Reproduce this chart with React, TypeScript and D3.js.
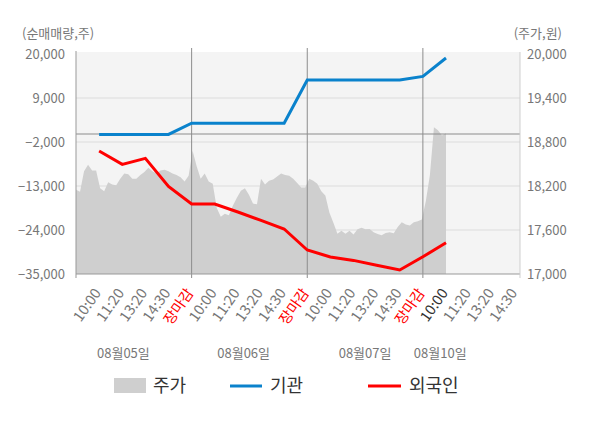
import { useEffect, useRef } from 'react';
import * as d3 from 'd3';

const timeLabels = [
  '10:00', '11:20', '13:20', '14:30', '장마감',
  '10:00', '11:20', '13:20', '14:30', '장마감',
  '10:00', '11:20', '13:20', '14:30', '장마감',
  '10:00', '11:20', '13:20', '14:30',
];
const dayLabels = ['08월05일', '08월06일', '08월07일', '08월10일'];
const dayLabelAt = [1.05, 6.25, 11.5, 14.75];
const dayBreaks = [4, 9, 14];
const currentSlot = 15;

// cumulative net buying (shares), one value per time slot
const institution = [
  -100, -100, -100, -100, 2700,
  2700, 2700, 2700, 2700, 13500,
  13500, 13500, 13500, 13500, 14400,
  19000,
];
const foreign = [
  -4250, -7600, -6100, -13100, -17500,
  -17500, -19500, -21600, -23750, -29000,
  -30750, -31600, -32800, -34000, -30700,
  -27200,
];

// stock price (won), evenly spaced from the start of the chart to 10:00 on 08/10
const price = [
  18150, 18120, 18400, 18490, 18410, 18410, 18170, 18130, 18250, 18220,
  18210, 18300, 18370, 18360, 18300, 18300, 18350, 18390, 18450, 18400,
  18370, 18410, 18420, 18400, 18370, 18350, 18320, 18260, 18340, 18680,
  18470, 18300, 18370, 18260, 18230, 17900, 17780, 17820, 17800, 17930,
  18040, 18135, 18170, 18080, 17960, 17950, 18300, 18220, 18270, 18290,
  18330, 18370, 18350, 18340, 18300, 18240, 18180, 18180, 18300, 18270,
  18230, 18130, 18070, 17840, 17700, 17550, 17590, 17550, 17590, 17540,
  17610, 17630, 17610, 17615, 17570, 17545, 17530, 17560, 17570, 17555,
  17640, 17705, 17675, 17660, 17705, 17720, 17743, 18000, 18350, 19000,
  18960, 18890, 18920,
];

const leftTicks = [20000, 9000, -2000, -13000, -24000, -35000];
const rightTicks = [20000, 19400, 18800, 18200, 17600, 17000];

const FONT = '"Noto Sans CJK KR", "Noto Sans", sans-serif';

export default function App() {
  const svgRef = useRef<SVGSVGElement>(null);

  useEffect(() => {
    if (!svgRef.current) return;
    const svg = d3.select(svgRef.current);
    svg.selectAll('*').remove();

    const left = 76, right = 520, top = 54, bottom = 274;

    const x = d3.scaleLinear().domain([-1, 18.2]).range([left, right]);
    const yL = d3.scaleLinear().domain([-35000, 20000]).range([bottom, top]);
    const yR = d3.scaleLinear().domain([17000, 20000]).range([bottom, top]);
    const priceX = d3.scaleLinear().domain([0, price.length - 1]).range([-1, currentSlot]);

    // plot background
    svg.append('rect')
      .attr('x', left).attr('y', top - 2)
      .attr('width', right - left).attr('height', bottom - top + 2)
      .attr('fill', '#f4f4f4');

    // grid lines
    svg.append('g')
      .selectAll('line')
      .data(leftTicks.filter(d => d !== 20000 && d !== -35000))
      .enter()
      .append('line')
      .attr('x1', left).attr('x2', right)
      .attr('y1', d => yL(d)).attr('y2', d => yL(d))
      .attr('stroke', '#dcdcdc');

    // price area
    const area = d3.area<number>()
      .x((_, i) => x(priceX(i)))
      .y0(yR(17000))
      .y1(d => yR(d));
    svg.append('path')
      .datum(price)
      .attr('d', area)
      .attr('fill', '#cfcfcf');

    // zero line
    svg.append('line')
      .attr('x1', left).attr('x2', right)
      .attr('y1', yL(0)).attr('y2', yL(0))
      .attr('stroke', '#8c8c8c');

    // day separators
    svg.append('g')
      .selectAll('line')
      .data(dayBreaks)
      .enter()
      .append('line')
      .attr('x1', d => x(d)).attr('x2', d => x(d))
      .attr('y1', top - 6).attr('y2', bottom + 4)
      .attr('stroke', '#8c8c8c');

    // axes lines
    svg.append('line')
      .attr('x1', left).attr('x2', right)
      .attr('y1', bottom).attr('y2', bottom)
      .attr('stroke', '#999');
    svg.append('line')
      .attr('x1', left).attr('x2', left)
      .attr('y1', top - 3).attr('y2', bottom + 4)
      .attr('stroke', '#999');
    svg.append('line')
      .attr('x1', right).attr('x2', right)
      .attr('y1', top - 2).attr('y2', bottom + 4)
      .attr('stroke', '#cfcfcf');

    // series lines
    const line = d3.line<number>()
      .x((_, i) => x(i))
      .y(d => yL(d));
    svg.append('path')
      .datum(institution)
      .attr('d', line)
      .attr('fill', 'none')
      .attr('stroke', '#0a82cc')
      .attr('stroke-width', 3);
    svg.append('path')
      .datum(foreign)
      .attr('d', line)
      .attr('fill', 'none')
      .attr('stroke', '#ff0000')
      .attr('stroke-width', 3);

    // left axis labels
    svg.append('g')
      .selectAll('text')
      .data(leftTicks)
      .enter()
      .append('text')
      .attr('x', left - 11)
      .attr('y', d => yL(d))
      .attr('dy', '0.35em')
      .attr('text-anchor', 'end')
      .attr('font-family', FONT)
      .attr('font-size', 13)
      .attr('fill', '#777')
      .text(d => d3.format(',')(d));

    // right axis labels
    svg.append('g')
      .selectAll('text')
      .data(rightTicks)
      .enter()
      .append('text')
      .attr('x', right + 7)
      .attr('y', d => yR(d))
      .attr('dy', '0.35em')
      .attr('font-family', FONT)
      .attr('font-size', 13)
      .attr('fill', '#777')
      .text(d => d3.format(',')(d));

    // axis titles
    svg.append('text')
      .attr('x', 22).attr('y', 38)
      .attr('font-family', FONT).attr('font-size', 13).attr('fill', '#777')
      .text('(순매매량,주)');
    svg.append('text')
      .attr('x', 562).attr('y', 38)
      .attr('text-anchor', 'end')
      .attr('font-family', FONT).attr('font-size', 13).attr('fill', '#777')
      .text('(주가,원)');

    // time labels
    svg.append('g')
      .selectAll('text')
      .data(timeLabels)
      .enter()
      .append('text')
      .attr('transform', (_, i) => `translate(${x(i) + 2.5},${bottom + 19}) rotate(-55)`)
      .attr('text-anchor', 'end')
      .attr('font-family', FONT)
      .attr('font-size', 14.5)
      .attr('fill', (d, i) => (d === '장마감' ? '#ff0000' : i === currentSlot ? '#333' : '#777'))
      .text(d => d);

    // day labels
    svg.append('g')
      .selectAll('text')
      .data(dayLabels)
      .enter()
      .append('text')
      .attr('x', (_, i) => x(dayLabelAt[i]))
      .attr('y', 358)
      .attr('text-anchor', 'middle')
      .attr('font-family', FONT)
      .attr('font-size', 13)
      .attr('fill', '#777')
      .text(d => d);

    // legend
    const legend = svg.append('g').attr('font-family', FONT).attr('font-size', 18).attr('fill', '#333');
    legend.append('rect').attr('x', 114).attr('y', 378).attr('width', 32).attr('height', 15).attr('fill', '#cfcfcf');
    legend.append('text').attr('x', 153).attr('y', 392).text('주가');
    legend.append('line').attr('x1', 230).attr('x2', 262).attr('y1', 386).attr('y2', 386)
      .attr('stroke', '#0a82cc').attr('stroke-width', 3);
    legend.append('text').attr('x', 270).attr('y', 392).text('기관');
    legend.append('line').attr('x1', 368).attr('x2', 401).attr('y1', 386).attr('y2', 386)
      .attr('stroke', '#ff0000').attr('stroke-width', 3);
    legend.append('text').attr('x', 409).attr('y', 392).text('외국인');
  }, []);

  return (
    <div style={{ position: 'absolute', left: 0, top: 0, background: '#fff' }}>
      <svg ref={svgRef} width={600} height={428} style={{ display: 'block' }} />
    </div>
  );
}
